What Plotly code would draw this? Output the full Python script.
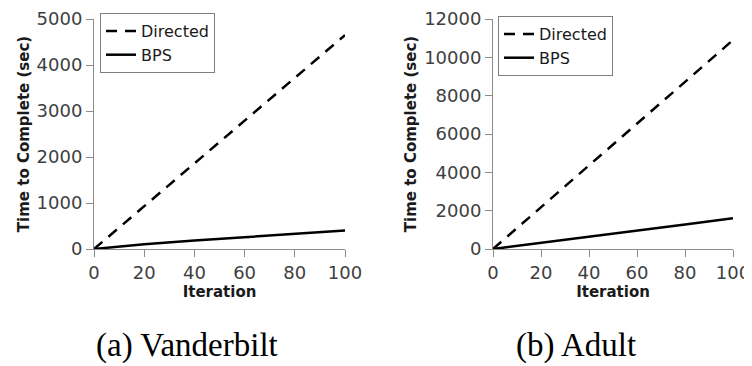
import plotly.graph_objects as go

iterations = [0, 20, 40, 60, 80, 100]
vand_directed = [0, 930, 1860, 2790, 3720, 4650]
vand_bps = [0, 105, 185, 260, 320, 400]
adult_directed = [0, 2180, 4360, 6540, 8720, 10900]
adult_bps = [0, 330, 650, 960, 1280, 1600]
x_ticks = [0, 20, 40, 60, 80, 100]
vand_yticks = [0, 1000, 2000, 3000, 4000, 5000]
adult_yticks = [0, 2000, 4000, 6000, 8000, 10000, 12000]
captions = ["(a) Vanderbilt", "(b) Adult"]

OFF = 8  # page body margin
W, H = 752 - OFF, 366 - OFF
TOP, BOT = 19 - OFF, 249 - OFF
PH = BOT - TOP
AX = "#8c8c8c"
TXT = "#404040"
DK = "#1a1a1a"


def px(v):
    return (v - OFF) / W


def py(v):
    return (BOT - (v - OFF)) / PH


fig = go.Figure()
fig.add_trace(go.Scatter(x=iterations, y=vand_directed, mode="lines", name="Directed",
                         line=dict(color="black", width=2.5, dash="11px,8px"),
                         xaxis="x", yaxis="y", legend="legend"))
fig.add_trace(go.Scatter(x=iterations, y=vand_bps, mode="lines", name="BPS",
                         line=dict(color="black", width=2.5),
                         xaxis="x", yaxis="y", legend="legend"))
fig.add_trace(go.Scatter(x=iterations, y=adult_directed, mode="lines", name="Directed",
                         line=dict(color="black", width=2.5, dash="11px,8px"),
                         xaxis="x2", yaxis="y2", legend="legend2"))
fig.add_trace(go.Scatter(x=iterations, y=adult_bps, mode="lines", name="BPS",
                         line=dict(color="black", width=2.5),
                         xaxis="x2", yaxis="y2", legend="legend2"))

tickfont = dict(family="DejaVu Sans", size=18, color=TXT)
titlefont = dict(family="DejaVu Sans", size=15, color=DK, weight="bold")


def xaxis(domain, anchor):
    return dict(domain=domain, anchor=anchor, range=[0, 100], tickvals=x_ticks,
                ticktext=[str(v) for v in x_ticks], ticklabeloverflow="allow",
                showgrid=False, zeroline=False, showline=True, linecolor=AX, linewidth=1,
                ticks="outside", ticklen=7, tickcolor=AX, tickfont=tickfont,
                title=dict(text="Iteration", font=titlefont, standoff=3), automargin=False)


def yaxis(rng, tv, anchor):
    return dict(domain=[0, 1], anchor=anchor, range=rng, tickvals=tv,
                ticktext=[str(v) for v in tv], ticklabeloverflow="allow",
                showgrid=False, zeroline=False, showline=True, linecolor=AX, linewidth=1,
                ticks="outside", ticklen=7, tickcolor=AX, tickfont=tickfont,
                title=dict(text="Time to Complete (sec)", font=titlefont, standoff=3),
                automargin=False)


legfont = dict(family="DejaVu Sans", size=16, color=DK)
fig.update_layout(
    width=W, height=H,
    margin=dict(l=0, r=0, t=TOP, b=H - BOT),
    paper_bgcolor="white", plot_bgcolor="white",
    xaxis=xaxis([px(94), px(345)], "y"),
    yaxis=yaxis([0, 5000], vand_yticks, "x"),
    xaxis2=xaxis([px(493), px(733)], "y2"),
    yaxis2=yaxis([0, 12000], adult_yticks, "x2"),
    legend=dict(x=px(100), y=py(13), xanchor="left", yanchor="top", xref="paper", yref="paper",
                bgcolor="white", bordercolor="#7f7f7f", borderwidth=1, font=legfont,
                itemwidth=30, tracegroupgap=0),
    legend2=dict(x=px(498), y=py(16), xanchor="left", yanchor="top", xref="paper", yref="paper",
                 bgcolor="white", bordercolor="#7f7f7f", borderwidth=1, font=legfont,
                 itemwidth=30, tracegroupgap=0),
    showlegend=True,
)

capfont = dict(family="Liberation Serif", size=33, color="black")
fig.add_annotation(text=captions[0], x=px(186.5), y=py(345), xref="paper", yref="paper",
                   showarrow=False, xanchor="center", yanchor="middle", font=capfont)
fig.add_annotation(text=captions[1], x=px(576), y=py(345), xref="paper", yref="paper",
                   showarrow=False, xanchor="center", yanchor="middle", font=capfont)

fig.write_html("out.html")
